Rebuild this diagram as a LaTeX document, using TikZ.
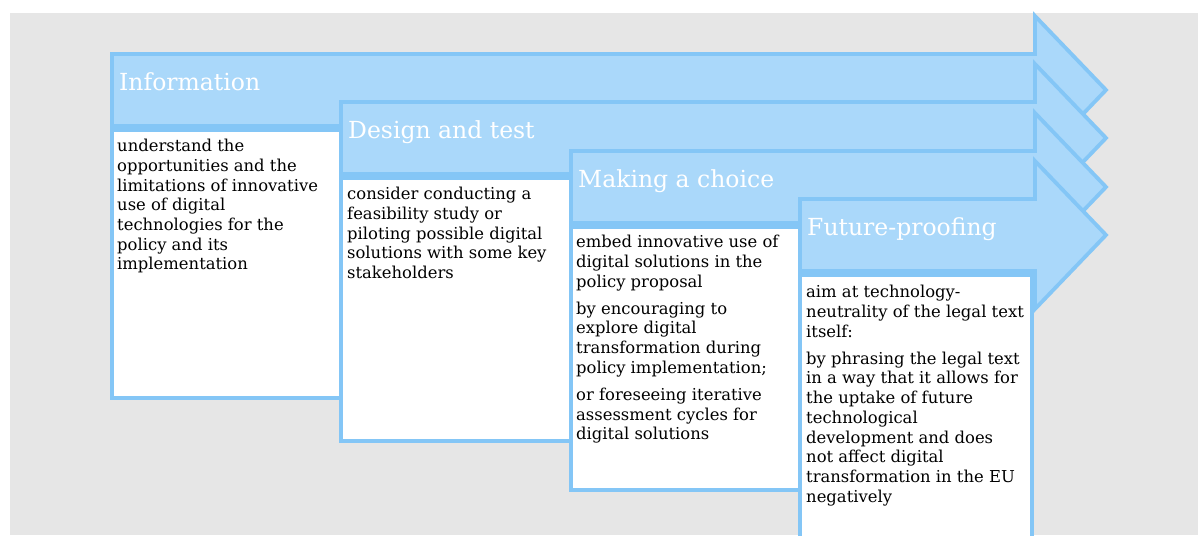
\documentclass[tikz,border=0pt]{standalone}
\usepackage{fontspec}
\setmainfont{DejaVu Serif}
\usepackage{xcolor}
\usetikzlibrary{positioning}
\definecolor{colPhaseFill}{HTML}{AAD8FA}
\definecolor{colPhaseLine}{HTML}{84C6F6}
\definecolor{colBack}     {HTML}{E6E6E6}
\tikzset{
  phasearrow/.style={
    fill=colPhaseFill, draw=colPhaseLine,
    line width=3.8pt, line join=miter
  },
  descbox/.style={
    fill=white, draw=colPhaseLine, line width=3.4pt
  },
  phasetitle/.style={
    anchor=base west, inner sep=0pt, text=white,
    font=\fontsize{23.5}{26}\selectfont
  },
  phasetext/.style={
    anchor=north west, inner sep=0pt, align=left,
    font=\fontsize{16.4}{19.7}\selectfont
  }
}
\newcommand{\parskipgap}{\\[7.5pt]}

\begin{document}
\begin{tikzpicture}[x=1pt, y=-1pt]
  \useasboundingbox (0,0) rectangle (1198,535);
  \fill[colBack] (10,13) rectangle (1198,535);

  %% ── Phase 1: Information ────────────────────────────────────────
  \draw[phasearrow] (112,54) -- (1035,54) -- (1035,16) -- (1106,90)
    -- (1035,164) -- (1035,126) -- (112,126) -- cycle;
  \node[phasetitle] (infoTitle) at (119,90.6) {Information};
  \draw[descbox] (112,130) rectangle (341,398);
  \node[phasetext] (infoText) at (117,139) {%
    understand the\\ opportunities and the\\ limitations of innovative\\
    use of digital\\ technologies for the\\ policy and its\\ implementation};

  %% ── Phase 2: Design and test ────────────────────────────────────
  \draw[phasearrow] (341,102) -- (1035,102) -- (1035,64) -- (1106,138)
    -- (1035,212) -- (1035,174) -- (341,174) -- cycle;
  \node[phasetitle] (designTitle) at (348,138.6) {Design and test};
  \draw[descbox] (341,178) rectangle (571,441);
  \node[phasetext] (designText) at (347,187) {%
    consider conducting a\\ feasibility study or\\ piloting possible digital\\
    solutions with some key\\ stakeholders};

  %% ── Phase 3: Making a choice ────────────────────────────────────
  \draw[phasearrow] (571,151) -- (1035,151) -- (1035,113) -- (1106,187)
    -- (1035,261) -- (1035,223) -- (571,223) -- cycle;
  \node[phasetitle] (choiceTitle) at (578,187.6) {Making a choice};
  \draw[descbox] (571,227) rectangle (800,490);
  \node[phasetext] (choiceText) at (576,235) {%
    embed innovative use of\\ digital solutions in the\\ policy proposal\parskipgap
    by encouraging to\\ explore digital\\ transformation during\\
    policy implementation;\parskipgap
    or foreseeing iterative\\ assessment cycles for\\ digital solutions};

  %% ── Phase 4: Future-proofing ────────────────────────────────────
  \draw[phasearrow] (800,199) -- (1035,199) -- (1035,161) -- (1106,235)
    -- (1035,309) -- (1035,271) -- (800,271) -- cycle;
  \node[phasetitle] (futureTitle) at (807,235.6) {Future-proofing};
  \draw[descbox] (800,275) rectangle (1032,560);
  \node[phasetext] (futureText) at (806,285) {%
    aim at technology-\\ neutrality of the legal text\\ itself:\parskipgap
    by phrasing the legal text\\ in a way that it allows for\\
    the uptake of future\\ technological\\ development and does\\
    not affect digital\\ transformation in the EU\\ negatively};
\end{tikzpicture}
\end{document}
